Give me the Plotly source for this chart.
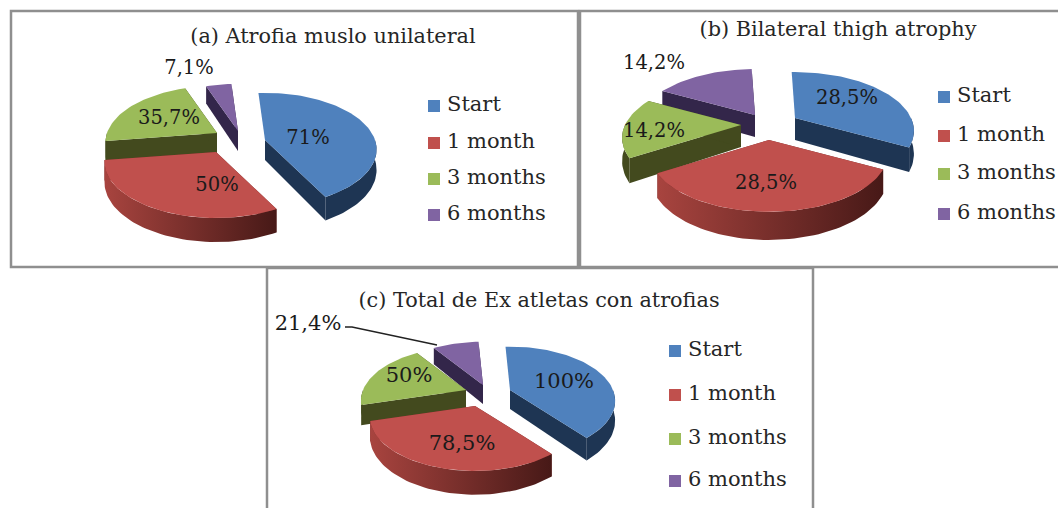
import math
import plotly.graph_objects as go

# ---- data ----
categories = ["Start", "1 month", "3 months", "6 months"]
values_a = [71, 50, 35.7, 7.1]
values_b = [28.5, 28.5, 14.2, 14.2]
values_c = [100, 78.5, 50, 21.4]
title_a = "(a) Atrofia muslo unilateral"
title_b = "(b) Bilateral thigh atrophy"
title_c = "(c) Total de Ex atletas con atrofias"

# ---- styles and layout (pixel-based axes) ----
W, H = 1058, 508
FONT = "DejaVu Serif"
TOP = ["#4F81BD", "#C0504D", "#9BBB59", "#8064A2"]
WALL = ["#1E3553", "#6E2A28", "#434A1E", "#33264A"]
WALL_GRAD = [None, ("#A8443F", "#471917"), None, None]

panels = [
    dict(values=values_a, title=title_a, title_xy=(333, 38),
         rx=110, ry=55, p=0.167, d=20, rot=-4, lab_size=19.5,
         apex=[(265, 140), (216, 152), (217, 133), (238, 131)],
         lab=[(308, 139), (217, 186), (169, 119), (189, 69)],
         sw_x=434, sw_y=[106, 143, 179, 215], box=(11, 11, 578, 267)),
    dict(values=values_b, title=title_b, title_xy=(838, 31),
         rx=116, ry=56, p=0.22, d=22, rot=-2, lab_size=19.5,
         apex=[(795, 118), (769, 140), (741, 125), (755, 115)],
         lab=[(847, 99), (766, 184), (654, 132), (654, 64)],
         sw_x=944, sw_y=[97, 136, 174, 214], box=(580, 11, 1060, 267)),
    dict(values=values_c, title=title_c, title_xy=(539, 302),
         rx=103, ry=52, p=0.2, d=19, rot=-3, lab_size=21,
         apex=[(510, 390), (475, 406), (466, 390), (483, 385)],
         lab=[(564, 383), (462, 445), (409, 377), (308, 325)],
         sw_x=675, sw_y=[351, 395, 439, 481], box=(267, 268, 813, 512)),
]
LEADER = ([345, 352, 437], [327, 327, 345])


def fmt(v):
    return f"{v:g}".replace(".", ",") + "%"


def point(ax, ay, deg, P, drop=0.0):
    t = math.radians(deg)
    s = 1 / (1 + P["p"] * math.cos(t))
    return (ax + P["rx"] * math.sin(t) * s,
            ay - P["ry"] * math.cos(t) * s + drop * s)


def arc(a0, a1):
    n = max(2, int(abs(a1 - a0) / 2))
    return [a0 + (a1 - a0) * i / n for i in range(n + 1)]


fig = go.Figure()


def poly(pts, color=None, grad=None):
    kw = dict(fillcolor=color) if grad is None else dict(
        fillgradient=dict(type="horizontal",
                          colorscale=[[0, grad[0]], [1, grad[1]]]))
    fig.add_trace(go.Scatter(
        x=[q[0] for q in pts] + [pts[0][0]],
        y=[q[1] for q in pts] + [pts[0][1]],
        mode="lines", fill="toself", line=dict(width=0),
        hoverinfo="skip", showlegend=False, **kw))


for P in panels:
    total = sum(P["values"])
    spans, cur = [], float(P["rot"])
    for v in P["values"]:
        spans.append((cur, cur + v / total * 360))
        cur += v / total * 360
    for i in (3, 2, 1, 0):  # back to front
        a0, a1 = spans[i]
        ax, ay = P["apex"][i]
        d = P["d"]
        edges = (a1,) if i == 0 else (a0, a1)
        for edge in edges:
            poly([(ax, ay), point(ax, ay, edge, P),
                  point(ax, ay, edge, P, d), (ax, ay + d)], WALL[i])
        lo, hi = max(a0, 90), min(a1, 270)
        if hi > lo:
            angs = arc(lo, hi)
            poly([point(ax, ay, a, P) for a in angs] +
                 [point(ax, ay, a, P, d) for a in reversed(angs)],
                 WALL[i], WALL_GRAD[i])
        poly([(ax, ay)] + [point(ax, ay, a, P) for a in arc(a0, a1)], TOP[i])
    # swatches + legend text
    fig.add_trace(go.Scatter(
        x=[P["sw_x"]] * 4, y=P["sw_y"], mode="markers",
        marker=dict(symbol="square", size=12, color=TOP),
        hoverinfo="skip", showlegend=False))
    fig.add_trace(go.Scatter(
        x=[P["sw_x"] + 13] * 4, y=P["sw_y"], mode="text", text=categories,
        textposition="middle right",
        textfont=dict(family=FONT, size=21, color="#262626"),
        hoverinfo="skip", showlegend=False))
    # data labels and title
    fig.add_trace(go.Scatter(
        x=[q[0] for q in P["lab"]], y=[q[1] for q in P["lab"]], mode="text",
        text=[fmt(v) for v in P["values"]], textposition="middle center",
        textfont=dict(family=FONT, size=P["lab_size"], color="#1a1a1a"),
        hoverinfo="skip", showlegend=False))
    fig.add_trace(go.Scatter(
        x=[P["title_xy"][0]], y=[P["title_xy"][1]], mode="text",
        text=[P["title"]], textposition="middle center",
        textfont=dict(family=FONT, size=20.8, color="#262626"),
        hoverinfo="skip", showlegend=False))
    x0, y0, x1, y1 = P["box"]
    fig.add_shape(type="rect", x0=x0, y0=y0, x1=x1, y1=y1,
                  line=dict(color="#8F8F8F", width=2.5), layer="below")

fig.add_trace(go.Scatter(x=LEADER[0], y=LEADER[1], mode="lines",
                         line=dict(color="#222222", width=1.3),
                         hoverinfo="skip", showlegend=False))

fig.update_layout(
    width=W, height=H, margin=dict(l=0, r=0, t=0, b=0),
    paper_bgcolor="white", plot_bgcolor="white", showlegend=False,
    xaxis=dict(range=[0, W], visible=False, fixedrange=True),
    yaxis=dict(range=[H, 0], visible=False, fixedrange=True),
)
fig.write_html("out.html", config=dict(displayModeBar=False),
               post_script="document.body.style.margin='0';document.body.style.overflow='hidden';")
